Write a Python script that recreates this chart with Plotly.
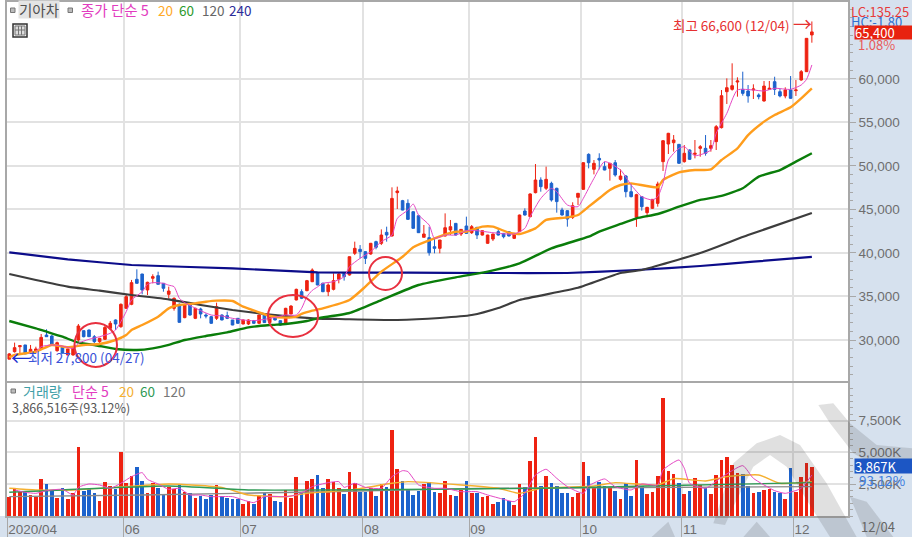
import plotly.graph_objects as go
from plotly.subplots import make_subplots

W, H = 912, 537

opens = [27800,28660,29230,29430,28540,28660,29040,30570,30460,28770,
 29160,28280,28280,30000,31070,31150,30380,29810,30080,31340,
 32300,31530,33640,34100,36970,37580,35750,37090,37390,36510,
 35250,33640,34100,32570,34020,32490,33560,32870,32680,32490,
 32870,32800,32300,32490,31840,31840,32220,31920,32990,32000,
 32870,32220,31920,32990,34600,35550,35670,36700,37660,36510,
 35550,35820,36970,37660,37470,39960,40420,40150,39880,41300,
 41110,42370,41950,46930,46010,45700,44740,44280,41800,41760,
 40720,40530,41950,42640,43400,42180,43100,42330,42940,42060,
 41110,41600,42450,42250,42450,41680,42450,44820,44170,46930,
 48380,47430,48000,47430,44940,44860,44090,46390,47310,51330,
 49610,50870,49920,49720,50370,48460,48840,47040,44100,46470,
 44630,45130,45700,50490,52520,52670,52480,50490,51830,51340,
 52020,52020,52020,52790,54400,58530,58800,59640,58800,58610,
 58730,58150,57460,58800,59680,58530,58040,58730,58650,59870,
 60830,65050]
closes = [28400,29120,29350,28400,28930,28970,30300,30380,29430,29690,
 28470,28970,29230,31610,30380,30380,29810,30190,31450,31920,
 31840,34100,34980,36590,36510,35750,36630,37280,36400,35940,
 35630,34790,32030,34020,32870,33640,32990,32760,31920,33830,
 32300,32490,31720,31920,32300,32300,31920,32870,32000,32680,
 32300,31720,33640,33900,35820,34790,36820,38040,36320,35550,
 36320,36820,37580,37280,39570,40530,40150,39380,41110,40650,
 42060,42060,46270,47120,44930,43860,42830,42330,42180,40030,
 40530,41490,42900,43020,42060,42710,42250,43020,42060,42560,
 42060,42180,42060,41870,41950,42250,44360,44360,46780,48380,
 47620,48460,46090,45900,44360,43900,45430,46850,50370,50370,
 50300,50680,49530,50300,48960,48840,47040,46470,46700,45320,
 45240,46160,47920,52900,53750,52980,50300,51450,50760,51450,
 52210,51450,52330,54510,58070,58990,59220,59760,58340,58040,
 58840,57960,59180,58920,58800,58040,58730,57770,58730,60830,
 64660,65400]
highs = [28500,29700,29350,29430,29430,29230,30690,31230,30570,29810,
 29160,29000,29300,31840,31100,31200,30570,30250,31720,32180,
 32370,34200,35170,36900,38120,37600,36700,37550,37850,36510,
 36130,34900,34200,34100,34210,33700,33710,33060,32760,34290,
 32950,33260,32300,32500,32350,32370,32300,32900,33050,32750,
 32950,32250,33700,34000,35900,35820,36900,38230,37700,36600,
 36510,37660,37730,37730,39600,41300,40910,40200,41150,41410,
 42710,43020,47540,47620,46100,46160,44800,44300,43210,43020,
 41680,41500,44550,43790,43450,42750,44170,43210,43000,42600,
 42100,42200,42830,42300,42500,42300,44400,45130,46850,50220,
 48690,49920,48190,47500,45200,44900,45820,46900,50420,51450,
 50680,51450,50490,50350,50680,49610,48960,48000,46800,46500,
 45300,46200,48190,52950,53800,53550,52500,52400,51900,52980,
 52400,53550,52980,54700,58720,60060,61790,60180,60830,59300,
 59380,58340,59760,59760,60250,58920,59030,60330,59870,61020,
 64700,66600]
lows = [27800,28550,28470,28400,28470,28580,28970,30380,29430,28660,
 28470,28200,28200,29810,30300,30380,29620,29540,30000,31150,
 31150,31400,33600,34000,36510,35250,35170,36510,36400,35550,
 34790,33370,32000,32500,32800,32400,32490,32490,31850,32300,
 32260,32400,31700,31850,31800,31720,31850,31850,31950,31950,
 32250,31650,31850,32950,34550,34700,35600,36650,36300,35500,
 35050,35700,36510,36820,37400,39760,39380,38730,39800,40420,
 40910,41300,41900,45050,44900,43800,42800,42300,41800,39690,
 39960,39960,41900,42060,42000,41950,42200,42180,41600,42000,
 41050,41370,42000,41680,41900,41600,42400,44300,44100,46850,
 47040,47230,45900,44630,44300,43020,43900,45510,47250,49720,
 49030,49610,49500,48310,48770,48310,46390,46390,43000,44860,
 44100,45050,45320,49420,51370,51640,50250,50380,50700,50870,
 51060,51180,51640,51830,54300,57120,58650,57960,58070,57270,
 57690,57650,57400,58730,58150,57880,57770,57700,58040,59800,
 60800,64160]

ma5_x = [5,6,8,10,12,13,15,17,19,20,21,22,23,25,26,27,29,30,31,32,33,36,38,40,42,44,46,48,50,52,54,55,56,57,58,
 59,61,63,64,66,68,70,72,73,75,76,77,79,80,82,84,86,88,91,95,97,98,100,102,103,105,107,108,110,112,
 115,117,119,121,122,123,124,126,127,129,132,133,135,137,140,142,144,147,149,150,151]
ma5_y = [28660,29230,29430,29310,29040,29620,30080,30380,30770,31150,32110,33260,34600,35550,36400,36590,36510,36300,36130,34790,34290,33370,32870,32760,32490,32300,32220,32370,32600,32870,32870,33640,34980,35700,36100,
 36510,36700,37275,38420,39380,40150,41300,42060,43980,44935,45620,44360,43210,41680,42060,42060,42560,42560,42330,42180,42830,44170,46270,47420,47040,45510,45320,46270,48570,50490,
 49530,47810,46470,46090,46470,48000,50680,52020,52210,51180,51830,53750,56040,58720,58720,58610,58920,58800,59300,59950,61600]
ma20_x = [0,1,5,8,11,14,17,20,22,23,25,28,30,32,35,37,39,42,44,47,49,52,54,55,57,59,64,67,70,74,76,80,84,86,89,91,94,96,99,101,105,107,109,111,113,115,117,122,123,126,129,132,134,137,139,142,144,147,149,151]
ma20_y = [28000,28280,28660,29430,29160,29430,29540,30000,30570,31150,31720,32680,33640,34020,34210,34400,34520,34480,33830,33180,32760,32570,32680,32990,33370,33640,34590,36126,37850,39570,40650,41680,42445,42445,43020,43020,42330,42180,42830,43790,44090,44360,45320,46280,47235,47810,48000,47540,48380,49260,49530,49610,50680,52020,53550,55090,55850,56740,57770,58920]
ma60_x = [0,5,7,10,13,16,20,24,27,30,33,37,41,45,49,52,56,58,64,70,77,84,90,96,102,109,111,115,118,122,126,130,134,138,141,145,148,151]
ma60_y = [32180,31340,30960,30380,29690,29430,28970,28850,29040,29430,30000,30460,30880,31450,31720,31840,32180,32490,33100,34590,36320,37200,37850,38800,40530,41870,42450,43330,43980,44480,45320,46090,46550,47430,48770,49530,50490,51450]
ma120_x = [0,5,11,17,23,30,36,42,48,53,58,62,73,81,87,92,96,107,115,119,130,139,151]
ma120_y = [37580,36890,36130,35670,35170,34670,34020,33450,32990,32680,32450,32410,32300,32530,32870,33680,34600,36000,37700,38040,40000,42060,44590]
ma240_x = [0,11,23,42,58,75,90,105,118,130,140,151]
ma240_y = [40070,39270,38620,38230,37780,37730,37700,37700,38040,38500,39000,39540]

volume_k = [1467,2175,1860,1965,1650,1467,2880,2490,1990,1390,2175,1310,1780,5450,1965,2120,1780,1205,2670,2360,2100,5005,2570,3170,3825,2780,1780,2570,2175,1650,2250,2100,2410,1910,1780,1390,1570,1310,1650,2435,1600,1390,1335,1310,945,1150,970,1600,1835,1730,1205,1125,2045,1415,3040,1835,2780,
 2935,3195,2175,2935,2700,2175,1730,3460,2570,1910,1910,2175,1570,2515,2250,6760,3720,2750,2100,1650,1990,2515,2645,1910,1835,2780,1650,1570,2045,2780,1835,1835,1467,1570,945,1125,1390,1205,865,2515,2250,4320,6235,2360,3120,2570,2360,1835,1835,1467,1780,4245,3120,2305,2670,2385,2305,
 1990,1310,2595,1570,4400,2360,1730,1885,3120,9250,3560,3275,2570,1730,1990,2960,2435,2225,1730,3220,4400,4665,3980,3355,3275,2360,1835,1910,2070,2100,1910,1835,1310,3800,1910,3040,4140,3867]
volume_dir = list("RRRBRRRBBRBRRRBBBRRRBRRRBBRRBBRRBRBRBBBRBBBBRRBRBRBBRRRBR"
 "RBBRRRBRRBBRBRBRRBBBBRBBRRRBRBRBRRRBBBRRBRRBRBBBBRRRBRBBR"
 "BRBBRBRRRRRRBRBRRBRRRRRRBBRBRRBBRBRRRR")
vol_ma5_x = [1,3,5,7,10,12,13,15,17,19,21,23,25,26,28,30,32,34,36,38,42,44,46,48,52,54,56,57,60,62,63,65,67,70,72,74,75,77,80,82,85,88,90,93,95,97,99,101,103,105,108,109,112,114,117,119,122,123,126,127,128,131,134,138,140,144,146,149,151]
vol_ma5_y = [2045,1860,1780,1990,2095,1650,2250,2515,2435,2175,2570,3090,3405,2880,2515,2095,2175,1650,1650,1520,1520,1260,1050,1520,1520,1650,2045,2305,2620,2700,2250,2570,2250,2175,3090,3560,3485,2435,2175,2175,1910,1910,1650,1310,1125,1780,3220,3670,2960,2305,1780,2360,2910,2300,2045,2515,2435,3615,4400,3750,2570,2175,3040,3955,2960,1990,1780,2175,3220]
vol_ma20_x = [0,5,12,20,30,40,45,52,56,60,65,72,75,85,92,96,100,110,114,122,125,131,135,141,145,151]
vol_ma20_y = [2175,2045,2045,2250,2515,2250,1650,1520,1780,1910,2095,2570,2700,2435,2175,1780,2175,2360,2620,2435,2935,2750,3090,3220,2570,2700]
vol_ma60_x = [0,30,45,60,100,120,151]
vol_ma60_y = [1860,2360,2045,2045,2175,2360,2620]
vol_ma120_x = [0,25,60,90,151]
vol_ma120_y = [1520,1650,1910,2175,2305]

month_ticks = [-0.43,21.5,43.5,66.5,86.5,107.5,126.5,147.5]
month_labels = ["2020/04","06","07","08","09","10","11","12"]
price_ticks = [30000,35000,40000,45000,50000,55000,60000]
vol_ticks = [2500,5000,7500]
vol_labels = ["2,500K","5,000K","7,500K"]

RED, BLUE = "#ee2211", "#1c62cc"
GRID = "#e2e2e2"
AXC = "#a8a8a8"
TXT = "#6e6e6e"
KR = "Noto Sans CJK KR, Liberation Sans, sans-serif"
BG = "#d6e1ee"

fig = make_subplots(rows=2, cols=1, shared_xaxes=True)
idx = list(range(len(opens)))
fig.add_trace(go.Candlestick(x=idx, open=opens, high=highs, low=lows, close=closes, whiskerwidth=0,
    increasing=dict(line=dict(color=RED, width=1), fillcolor=RED),
    decreasing=dict(line=dict(color=BLUE, width=1), fillcolor=BLUE)), row=1, col=1)
for xs, ys, c, w, s in [(ma240_x, ma240_y, "#0c0c8a", 2.2, 0.3), (ma120_x, ma120_y, "#3d3d3d", 2.2, 0.5),
                        (ma60_x, ma60_y, "#0a7d0a", 2.4, 0.5), (ma20_x, ma20_y, "#ff9d1c", 2.4, 0.5),
                        (ma5_x, ma5_y, "#e548c4", 1, 0.6)]:
    fig.add_trace(go.Scatter(x=xs, y=ys, mode="lines", line=dict(color=c, width=w, shape="spline", smoothing=s)), row=1, col=1)
fig.add_trace(go.Bar(x=list(range(len(volume_k))), y=volume_k,
    marker=dict(color=[RED if d == "R" else BLUE for d in volume_dir], line_width=0), width=0.68), row=2, col=1)
for xs, ys, c, w in [(vol_ma120_x, vol_ma120_y, "#8a8a8a", 1.4), (vol_ma20_x, vol_ma20_y, "#f5b030", 1.4),
                     (vol_ma60_x, vol_ma60_y, "#2f9a55", 1.4), (vol_ma5_x, vol_ma5_y, "#e548c4", 1)]:
    fig.add_trace(go.Scatter(x=xs, y=ys, mode="lines", line=dict(color=c, width=w, shape="spline", smoothing=0.5)), row=2, col=1)

def px(x): return x / W
def py(y): return 1 - y / H
def note(x, y, text, color, size=12.5, anchor="left", **kw):
    fig.add_annotation(xref="paper", yref="paper", x=px(x), y=py(y), text=text, showarrow=False,
                       xanchor=anchor, yanchor="middle", font=dict(family=KR, size=size, color=color), **kw)

note(18, 10, "기아차", "#505050", 14.5, bgcolor="#e4e4e4", borderpad=0, height=17)
note(79, 10, "종가 단순 5", "#e23cc0", 14.5)
note(156, 10, "20", "#ffa928", 13.5)
note(177, 10, "60", "#2c9a2c", 13.5)
note(200, 10, "120", "#666666", 13.5)
note(227, 10, "240", "#2b2b9a", 13.5)
note(21, 391, "거래량", "#3f9fa8", 14)
note(70, 391, "단순 5", "#e23cc0", 14)
note(117, 391, "20", "#f5b030", 13.5)
note(138, 391, "60", "#2f9a55", 13.5)
note(161, 391, "120", "#777777", 13.5)
note(10, 407, "3,866,516주(93.12%)", "#555555", 12.5)
note(671, 25, "최고 66,600 (12/04)", "#e63030", 13.5)
note(791, 24, "→", "#e63030", 19)
note(9, 357, "←", "#1a2fd0", 20)
note(26, 357, "최저 27,800 (04/27)", "#3a52d8", 13.5)
note(849, 11, "LC:135.25", "#e63a3a", 13)
note(849, 21, "HC:-1.80", "#2f6fd0", 13)
note(856, 45, "1.08%", "#e85a5a", 13)
note(854, 32, "65,400", "#ffffff", 13, bgcolor="#e8220f", width=58, height=13, align="left", borderpad=0)
note(854, 466, "3,867K", "#ffffff", 13, bgcolor="#1c56c4", width=58, height=14, align="left", borderpad=0)
note(857, 480, "93.12%", "#3f80e0", 13.5)
note(859, 526, "12/04", "#666666", 13)

def poly(points):
    return "M " + " L ".join(f"{px(x):.4f} {py(y):.4f}" for x, y in points) + " Z"
def z7(pts):
    return [(600 + a / 3, 380 + b / 3) for a, b in pts]

WM = "rgba(60,60,60,0.16)"
wm_parts = [
    z7([(340,430),(400,250),(470,190),(540,165),(600,195),(680,310),(770,471),(690,471),(620,360),(560,260),(510,225),(460,260),(400,380),(375,435)]),
    z7([(655,75),(700,70),(750,130),(830,195),(936,205),(936,270),(830,262),(760,220),(690,130)]),
    z7([(155,471),(205,425),(225,471)]),
    z7([(430,471),(470,425),(510,471)]),
    z7([(750,350),(800,365),(880,471),(800,471)]),
]
ICON = dict(fillcolor="#bbbbbb", line=dict(color="#777777", width=1))
shapes = [
    dict(type="rect", xref="paper", yref="paper", x0=0, x1=px(6.5), y0=py(516), y1=1, fillcolor="#ffffff", line_width=0, layer="below"),
    dict(type="rect", xref="paper", yref="paper", x0=px(13), x1=px(27), y0=py(37), y1=py(24), fillcolor="#f0f0f0", line=dict(color="#333333", width=1.5)),
    dict(type="rect", xref="paper", yref="paper", x0=px(15), x1=px(25), y0=py(35), y1=py(26), fillcolor="#dddddd", line=dict(color="#777777", width=1)),
    dict(type="line", xref="paper", yref="paper", x0=px(18.5), x1=px(18.5), y0=py(35), y1=py(26), line=dict(color="#777777", width=1)),
    dict(type="line", xref="paper", yref="paper", x0=px(21.5), x1=px(21.5), y0=py(35), y1=py(26), line=dict(color="#777777", width=1)),
    dict(type="line", xref="paper", yref="paper", x0=px(15), x1=px(25), y0=py(30), y1=py(30), line=dict(color="#777777", width=1)),
    dict(type="rect", xref="paper", yref="paper", x0=px(10.5), x1=px(15), y0=py(12.5), y1=py(8), **ICON),
    dict(type="rect", xref="paper", yref="paper", x0=px(68), x1=px(72.5), y0=py(12.5), y1=py(8), **ICON),
    dict(type="rect", xref="paper", yref="paper", x0=px(11), x1=px(15.5), y0=py(393), y1=py(389), **ICON),
]
for x0, x1, y0, y1 in [(74.5, 117, 323, 367), (268, 318, 295, 337), (369, 402, 257, 290)]:
    shapes.append(dict(type="circle", xref="paper", yref="paper", x0=px(x0), x1=px(x1), y0=py(y1), y1=py(y0),
                       line=dict(color="#e8303f", width=2)))
for part in wm_parts:
    shapes.append(dict(type="path", xref="paper", yref="paper", path=poly(part), fillcolor=WM, line_width=0))

axis_font = dict(family="Liberation Sans, sans-serif", size=13.5, color=TXT)
fig.update_layout(
    width=W, height=H, autosize=False, showlegend=False, bargap=0,
    margin=dict(l=0, r=0, t=0, b=0), paper_bgcolor=BG, plot_bgcolor="#ffffff",
    shapes=shapes,
    xaxis=dict(domain=[px(7), px(848)], range=[-0.43, 157.8], rangeslider=dict(visible=False),
               tickmode="array", tickvals=month_ticks, ticktext=[""] * len(month_ticks), showticklabels=False,
               showgrid=True, gridcolor=GRID, gridwidth=1.5, zeroline=False, ticks="",
               showline=True, linecolor=AXC, linewidth=1.5, mirror=True),
    xaxis2=dict(domain=[px(7), px(848)], range=[-0.43, 157.8], tickmode="array", tickvals=month_ticks,
                ticktext=month_labels, ticklabelposition="outside right", tickfont=axis_font, ticks="outside", ticklen=20,
                tickcolor=AXC, showgrid=True, gridcolor=GRID, gridwidth=1.5, zeroline=False,
                showline=True, linecolor=AXC, linewidth=1.5, mirror=True),
    yaxis=dict(domain=[py(381), py(2)], range=[25289, 68836], side="right", tickmode="array", tickvals=price_ticks,
               tickformat=",d", tickfont=axis_font, ticks="outside", ticklen=6, tickcolor=AXC,
               minor=dict(dtick=1000, ticks="outside", ticklen=3, tickcolor=AXC, showgrid=False, tick0=0),
               showgrid=True, gridcolor=GRID, gridwidth=1.5, zeroline=False,
               showline=True, linecolor=AXC, linewidth=1.5, mirror=True),
    yaxis2=dict(domain=[py(516), py(383)], range=[0, 10445], side="right", tickmode="array", tickvals=vol_ticks,
                ticktext=vol_labels, tickfont=axis_font, ticks="outside", ticklen=6, tickcolor=AXC,
                minor=dict(dtick=500, ticks="outside", ticklen=3, tickcolor=AXC, showgrid=False, tick0=0),
                showgrid=True, gridcolor=GRID, gridwidth=1.5, zeroline=False,
                showline=True, linecolor=AXC, linewidth=1.5, mirror=True),
)
fig.write_html("out.html", config={"displayModeBar": False},
               post_script="document.body.style.margin='0';document.body.style.overflow='hidden';")
